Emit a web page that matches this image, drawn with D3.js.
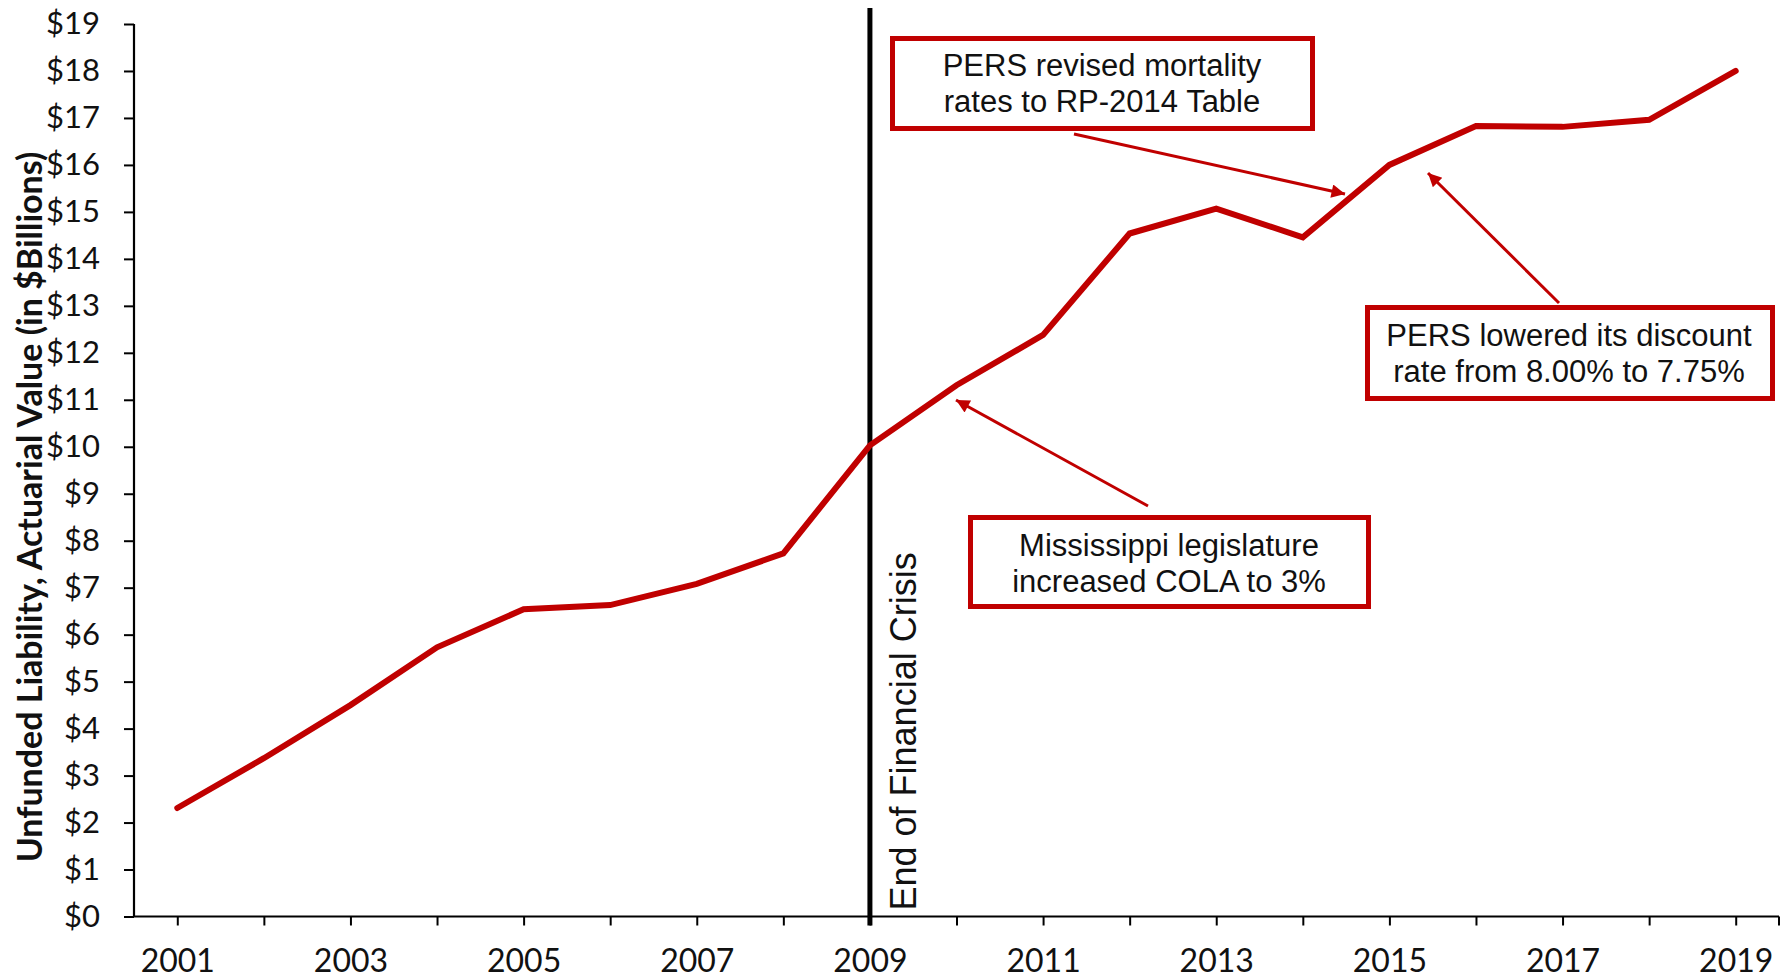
<!DOCTYPE html>
<html>
<head>
<meta charset="utf-8">
<script src="https://cdn.jsdelivr.net/npm/d3@7"></script>
<style>
  html, body { margin: 0; padding: 0; background: #fff; }
  svg { display: block; }
</style>
</head>
<body>
<svg id="chart" width="1787" height="978"></svg>
<script>
// ---- data ----
const years = [2001,2002,2003,2004,2005,2006,2007,2008,2009,2010,2011,2012,2013,2014,2015,2016,2017,2018,2019];
const unfunded = [2.31,3.37,4.50,5.73,6.54,6.63,7.08,7.73,10.03,11.31,12.38,14.54,15.07,14.46,16.00,16.83,16.81,16.96,18.00];
const yTicks = d3.range(0, 20);
const xLabelYears = [2001,2003,2005,2007,2009,2011,2013,2015,2017,2019];
const crisisYear = 2009;
const crisisLabel = "End of Financial Crisis";
const yTitle = "Unfunded Liability, Actuarial Value (in $Billions)";
const notes = [
  ["PERS revised mortality", "rates to RP-2014 Table"],
  ["PERS lowered its discount", "rate from 8.00% to 7.75%"],
  ["Mississippi legislature", "increased COLA to 3%"]
];

// ---- layout ----
const red = "#C00000";
const svg = d3.select("#chart");
const x = d3.scalePoint().domain(years).range([134, 1779]).padding(0.5);
const y = d3.scaleLinear().domain([0, 19]).range([916.5, 24]);

const defs = svg.append("defs");
defs.append("marker").attr("id", "ah").attr("viewBox", "0 0 10 10")
  .attr("refX", 10).attr("refY", 5).attr("markerWidth", 5.5).attr("markerHeight", 4.5)
  .attr("markerUnits", "strokeWidth").attr("orient", "auto")
  .append("path").attr("d", "M0,0 L10,5 L0,10 Z").attr("fill", red);

// Y axis
const yAxis = svg.append("g").attr("transform", "translate(134,0)")
  .call(d3.axisLeft(y).tickValues(yTicks).tickSize(10).tickPadding(24)
    .tickFormat(d => "$" + d));
yAxis.select(".domain").attr("stroke", "#000").attr("stroke-width", 2.2).attr("d", "M0," + y(0) + "V" + y(19));
yAxis.selectAll(".tick line").attr("stroke", "#000").attr("stroke-width", 2);
yAxis.selectAll(".tick text").attr("font-family", "Lato, 'Open Sans', sans-serif")
  .attr("font-size", 31).attr("fill", "#111");

// X axis
const xAxis = svg.append("g").attr("transform", "translate(0," + y(0) + ")")
  .call(d3.axisBottom(x).tickSize(9).tickPadding(24)
    .tickFormat(d => xLabelYears.includes(d) ? String(d) : ""));
xAxis.select(".domain").attr("stroke", "#000").attr("stroke-width", 2.2).attr("d", "M134,0H1779");
xAxis.selectAll(".tick line").attr("stroke", "#000").attr("stroke-width", 2);
xAxis.append("line").attr("x1", 1779).attr("x2", 1779).attr("y1", 0).attr("y2", 9)
  .attr("stroke", "#000").attr("stroke-width", 2);
xAxis.selectAll(".tick text").attr("font-family", "Lato, 'Open Sans', sans-serif")
  .attr("font-size", 32).attr("fill", "#111");

// Y title
svg.append("text")
  .attr("transform", "translate(42,507) rotate(-90)")
  .attr("text-anchor", "middle")
  .attr("font-family", "Lato, 'Open Sans', sans-serif")
  .attr("font-weight", "bold").attr("font-size", 34).attr("fill", "#111")
  .text(yTitle);

// Crisis line
svg.append("line")
  .attr("x1", x(crisisYear)).attr("x2", x(crisisYear))
  .attr("y1", 8).attr("y2", y(0) + 9)
  .attr("stroke", "#000").attr("stroke-width", 5);
svg.append("text")
  .attr("transform", "translate(" + (x(crisisYear) + 46) + "," + (y(0) - 6) + ") rotate(-90)")
  .attr("font-family", "'Liberation Sans', Arial, sans-serif")
  .attr("font-size", 36).attr("fill", "#111")
  .text(crisisLabel);

// Series line
const line = d3.line().x((d, i) => x(years[i])).y(d => y(d));
svg.append("path").datum(unfunded)
  .attr("d", line).attr("fill", "none").attr("stroke", red)
  .attr("stroke-width", 6).attr("stroke-linejoin", "miter").attr("stroke-linecap", "round");

// Annotations (layout in pixels)
const boxes = [
  { x: 892.5, y: 38.5, w: 420, h: 90, cx: 1102, b1: 76, b2: 112, arrow: [1074, 134, 1345, 194] },
  { x: 1367.5, y: 307.5, w: 405, h: 91, cx: 1569, b1: 346, b2: 382, arrow: [1559, 303, 1428, 173] },
  { x: 970.5, y: 517.5, w: 398, h: 89, cx: 1169, b1: 556, b2: 592, arrow: [1148, 506, 956, 400] }
];
boxes.forEach((b, i) => {
  svg.append("line").attr("x1", b.arrow[0]).attr("y1", b.arrow[1])
    .attr("x2", b.arrow[2]).attr("y2", b.arrow[3])
    .attr("stroke", red).attr("stroke-width", 3).attr("marker-end", "url(#ah)");
  svg.append("rect").attr("x", b.x).attr("y", b.y).attr("width", b.w).attr("height", b.h)
    .attr("fill", "#fff").attr("stroke", red).attr("stroke-width", 5);
  [b.b1, b.b2].forEach((by, j) => {
    svg.append("text").attr("x", b.cx).attr("y", by).attr("text-anchor", "middle")
      .attr("font-family", "'Liberation Sans', Arial, sans-serif")
      .attr("font-size", 31).attr("fill", "#111").text(notes[i][j]);
  });
});
</script>
</body>
</html>
